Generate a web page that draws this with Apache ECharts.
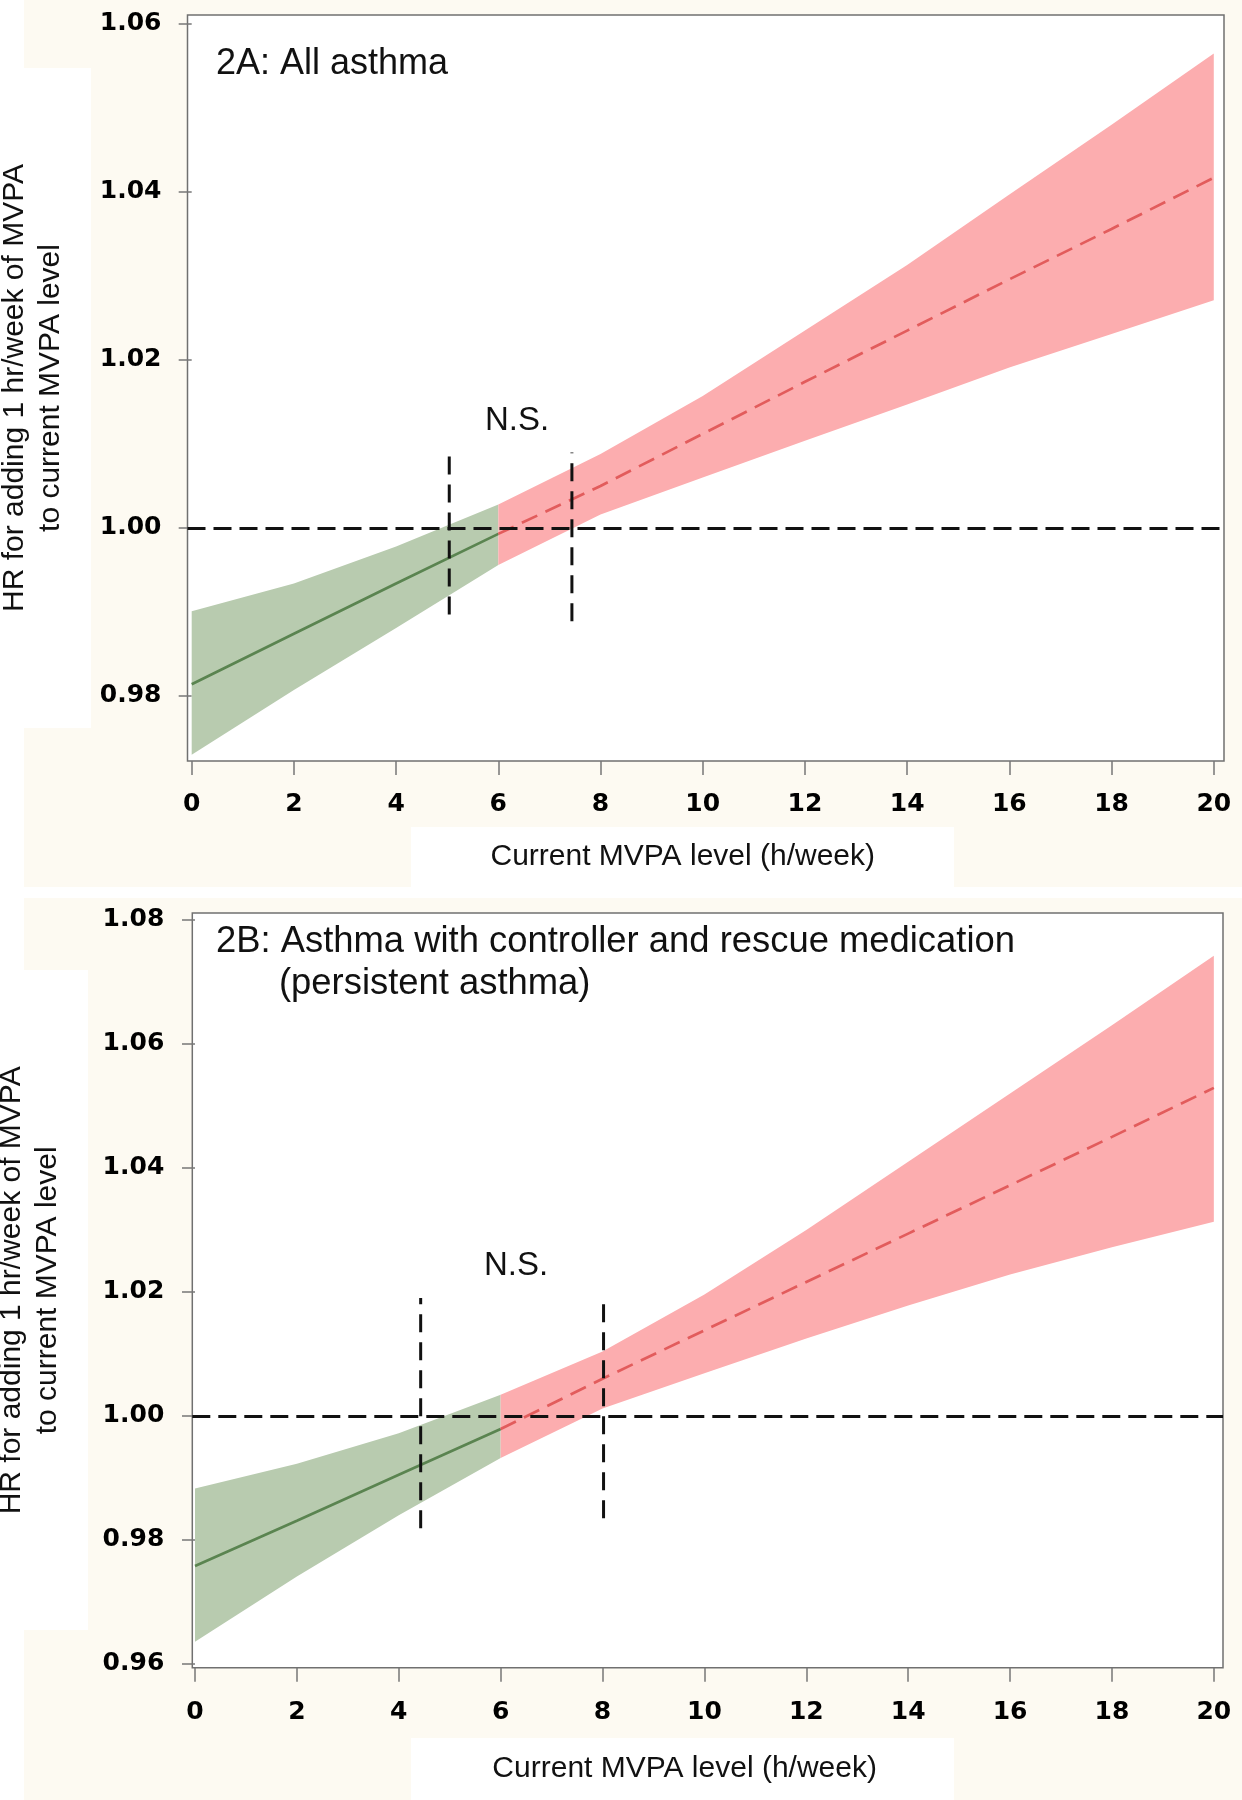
<!DOCTYPE html>
<html>
<head>
<meta charset="utf-8">
<script src="https://cdn.jsdelivr.net/npm/echarts@6/dist/echarts.min.js"></script>
<style>
html,body{margin:0;padding:0;background:#fdfaf2;}
#c{width:1242px;height:1800px;}
</style>
</head>
<body>
<div id="c"></div>
<script>
// ---------------- DATA ----------------
const xTicks = [0, 2, 4, 6, 8, 10, 12, 14, 16, 18, 20];
const yTicksA = [0.98, 1.00, 1.02, 1.04, 1.06];
const yTicksB = [0.96, 0.98, 1.00, 1.02, 1.04, 1.06, 1.08];

const xGreen = [0, 2, 4, 6];
const xRed = [6, 8, 10, 12, 14, 16, 18, 20];

// Panel 2A: All asthma
const estGreenA = [0.9814, 0.9874, 0.9934, 0.9993];
const loGreenA  = [0.9730, 0.9807, 0.9881, 0.9956];
const hiGreenA  = [0.9901, 0.9934, 0.9978, 1.0028];
const estRedA   = [0.9993, 1.0050, 1.0112, 1.0174, 1.0235, 1.0296, 1.0356, 1.0417];
const loRedA    = [0.9956, 1.0016, 1.0060, 1.0104, 1.0147, 1.0191, 1.0231, 1.0271];
const hiRedA    = [1.0028, 1.0088, 1.0157, 1.0235, 1.0313, 1.0397, 1.0480, 1.0565];
const nsLinesA  = [[5.04, 0.9897, 1.0091], [7.44, 0.9889, 1.0090]];

// Panel 2B: Asthma with controller and rescue medication
const estGreenB = [0.9758, 0.9831, 0.9905, 0.9979];
const loGreenB  = [0.9636, 0.9741, 0.9840, 0.9932];
const hiGreenB  = [0.9883, 0.9923, 0.9972, 1.0034];
const estRedB   = [0.9979, 1.0060, 1.0138, 1.0216, 1.0294, 1.0372, 1.0450, 1.0529];
const loRedB    = [0.9932, 1.0012, 1.0069, 1.0125, 1.0178, 1.0228, 1.0272, 1.0313];
const hiRedB    = [1.0034, 1.0104, 1.0196, 1.0300, 1.0410, 1.0520, 1.0630, 1.0742];
const nsLinesB  = [[4.43, 0.9819, 1.0190], [8.02, 0.9835, 1.0188]];

const refValue = 1.00;

// ---------------- STYLE ----------------
const GREEN_BAND = '#b8cbaf';
const RED_BAND = '#fcadaf';
const GREEN_LINE = '#5a8450';
const RED_LINE = '#e25c5c';
const SANS = '"Liberation Sans", Arial, sans-serif';
const TICKFONT = '"DejaVu Sans", sans-serif';

function band(xs, lo, hi, color, idx) {
  const data = xs.map((x, i) => [x, lo[i], hi[i]]);
  return {
    type: 'custom', xAxisIndex: idx, yAxisIndex: idx, silent: true, z: 1,
    data: data,
    encode: { x: 0, y: [1, 2] },
    renderItem: function (params, api) {
      if (params.dataIndex !== 0) return null;
      const pts = [];
      for (let i = 0; i < data.length; i++) pts.push(api.coord([data[i][0], data[i][2]]));
      for (let i = data.length - 1; i >= 0; i--) pts.push(api.coord([data[i][0], data[i][1]]));
      return { type: 'polygon', shape: { points: pts }, style: { fill: color } };
    }
  };
}
function estLine(xs, ys, color, dashed, idx, withRef) {
  const s = {
    type: 'line', xAxisIndex: idx, yAxisIndex: idx, silent: true, z: 4,
    symbol: 'none',
    data: xs.map((x, i) => [x, ys[i]]),
    lineStyle: { color: color, width: 2.7, type: dashed ? [17, 9] : 'solid' }
  };
  if (withRef) {
    s.markLine = {
      silent: true, symbol: ['none', 'none'], label: { show: false },
      lineStyle: { color: '#111', width: 3.2, type: [18, 8] },
      data: [{ yAxis: refValue }], z: 6
    };
  }
  return s;
}
function vLines(list, idx) {
  return list.map(v => ({
    type: 'line', xAxisIndex: idx, yAxisIndex: idx, silent: true, z: 7,
    symbol: 'none',
    data: [[v[0], v[1]], [v[0], v[2]]],
    lineStyle: { color: '#111', width: 3, type: [18, 10] }
  }));
}
function xAx(idx, min, max, gap, margin) {
  return {
    gridIndex: idx, type: 'value', min: min, max: max,
    axisLine: { show: false }, splitLine: { show: false },
    axisTick: { show: true, customValues: xTicks, length: 14, lineStyle: { color: '#777', width: 1.5 } },
    axisLabel: { customValues: xTicks, margin: margin, fontFamily: TICKFONT, fontWeight: 'bold', fontSize: 25, color: '#000' },
    name: 'Current MVPA level (h/week)', nameLocation: 'middle', nameGap: gap,
    nameTextStyle: { fontFamily: SANS, fontSize: 30, color: '#111', padding: [0, 46, 0, 0] }
  };
}
function yAx(idx, min, max, ticks, gap, margin) {
  return {
    gridIndex: idx, type: 'value', min: min, max: max,
    axisLine: { show: false }, splitLine: { show: false },
    axisTick: { show: true, customValues: ticks, length: 13, lineStyle: { color: '#777', width: 1.5 } },
    axisLabel: { customValues: ticks, margin: margin, formatter: v => v.toFixed(2), fontFamily: TICKFONT, fontWeight: 'bold', fontSize: 25, color: '#000' },
    name: 'HR for adding 1 hr/week of MVPA\nto current MVPA level',
    nameLocation: 'middle', nameRotate: 90, nameGap: gap,
    nameTextStyle: { fontFamily: SANS, fontSize: 30, lineHeight: 36, color: '#111', align: 'center' }
  };
}

const bgRects = [
  [0, 0, 24, 1800],
  [0, 68, 91, 660],
  [411, 827, 543, 60],
  [0, 887, 1242, 11],
  [0, 970, 88, 660],
  [411, 1738, 543, 62]
];

const option = {
  animation: false,
  backgroundColor: '#fdfaf2',
  title: [
    { text: '2A: All asthma', left: 216, top: 46, padding: 0,
      textStyle: { fontFamily: SANS, fontSize: 36, fontWeight: 'normal', color: '#111' } },
    { text: '2B: Asthma with controller and rescue medication', left: 216, top: 924, padding: 0,
      textStyle: { fontFamily: SANS, fontSize: 36.4, fontWeight: 'normal', color: '#111' } },
    { text: '(persistent asthma)', left: 279, top: 966, padding: 0,
      textStyle: { fontFamily: SANS, fontSize: 36.4, fontWeight: 'normal', color: '#111' } }
  ],
  grid: [
    { left: 187.5, top: 15, width: 1036.5, height: 746, show: true, backgroundColor: '#ffffff', borderColor: '#707070', borderWidth: 1.5, containLabel: false, outerBoundsMode: 'none' },
    { left: 192.3, top: 913, width: 1030.7, height: 754.7, show: true, backgroundColor: '#ffffff', borderColor: '#707070', borderWidth: 1.5, containLabel: false, outerBoundsMode: 'none' }
  ],
  xAxis: [xAx(0, -0.082, 20.2, 81, 31), xAx(1, -0.053, 20.18, 86, 32)],
  yAxis: [yAx(0, 0.97226, 1.06107, yTicksA, 119, 26), yAx(1, 0.9594, 1.0811, yTicksB, 127, 28)],
  graphic: bgRects.map(r => ({ type: 'rect', z: -10, silent: true, shape: { x: r[0], y: r[1], width: r[2], height: r[3] }, style: { fill: '#ffffff' } })).concat([
    { type: 'text', z: 20, silent: true, style: { x: 517, y: 421, text: 'N.S.', fontFamily: SANS, fontSize: 33, fill: '#111', align: 'center', verticalAlign: 'middle' } },
    { type: 'text', z: 20, silent: true, style: { x: 516, y: 1266, text: 'N.S.', fontFamily: SANS, fontSize: 33, fill: '#111', align: 'center', verticalAlign: 'middle' } }
  ]),
  series: [
    band(xGreen, loGreenA, hiGreenA, GREEN_BAND, 0),
    band(xRed, loRedA, hiRedA, RED_BAND, 0),
    estLine(xGreen, estGreenA, GREEN_LINE, false, 0, true),
    estLine(xRed, estRedA, RED_LINE, true, 0, false),
    band(xGreen, loGreenB, hiGreenB, GREEN_BAND, 1),
    band(xRed, loRedB, hiRedB, RED_BAND, 1),
    estLine(xGreen, estGreenB, GREEN_LINE, false, 1, true),
    estLine(xRed, estRedB, RED_LINE, true, 1, false)
  ].concat(vLines(nsLinesA, 0)).concat(vLines(nsLinesB, 1))
};

const chart = echarts.init(document.getElementById('c'), null, { renderer: 'canvas' });
chart.setOption(option);
</script>
</body>
</html>
